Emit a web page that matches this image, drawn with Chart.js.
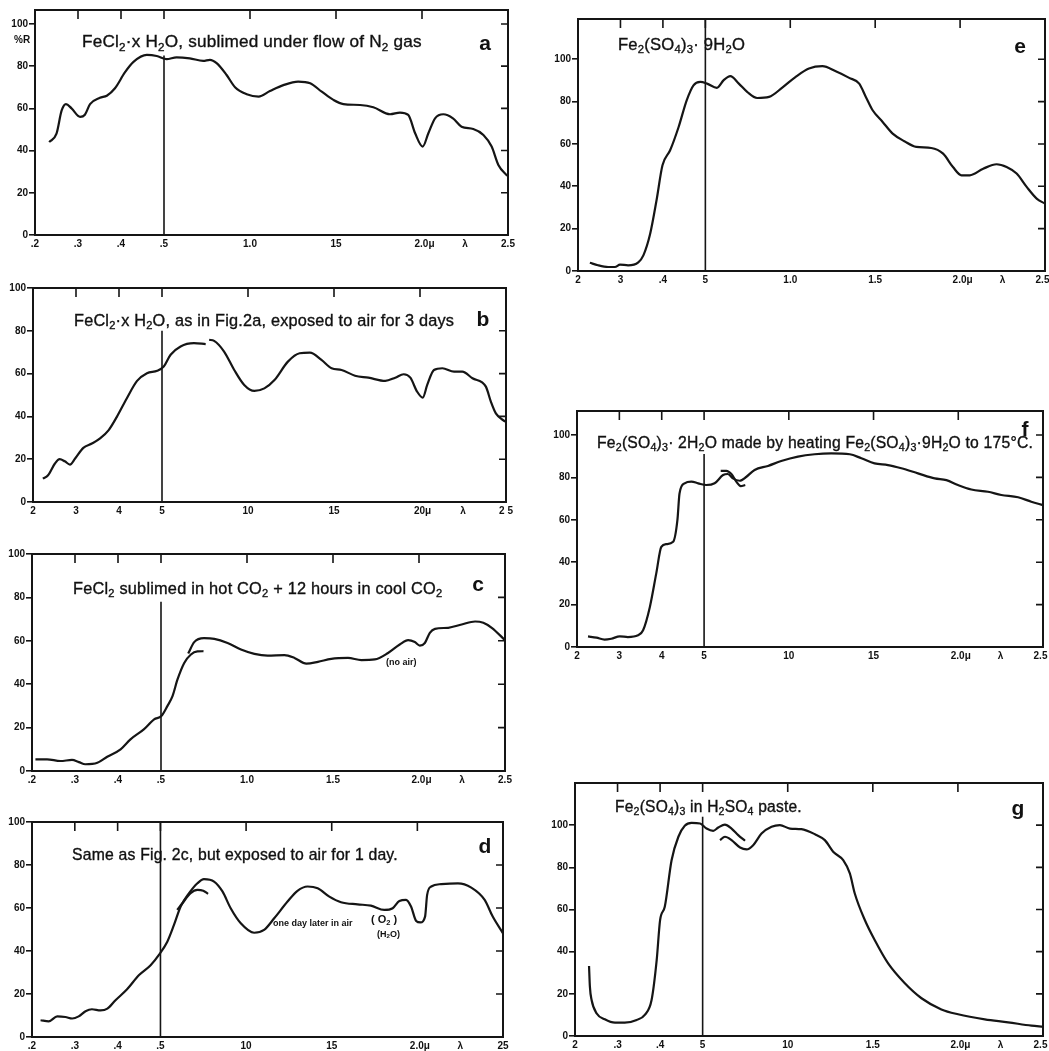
<!DOCTYPE html>
<html>
<head>
<meta charset="utf-8">
<script src="https://cdn.jsdelivr.net/npm/chart.js"></script>
<style>
  html, body { margin: 0; padding: 0; background: #fff; }
  body { width: 1049px; height: 1051px; position: relative; overflow: hidden; font-family: "Liberation Sans", Arial, sans-serif; color: #111; }
  .panel { position: absolute; }
  .note { position: absolute; white-space: nowrap; line-height: 1; transform: translateY(-50%); z-index: 2; }
  .title { font-size: 16px; -webkit-text-stroke: 0.35px #111; letter-spacing: 0.2px; }
  .tag { font-size: 21px; font-weight: bold; transform: translate(-50%, -50%); }
  .small { font-size: 9px; font-weight: bold; }
  sub { font-size: 68%; vertical-align: -0.3em; line-height: 0; }
</style>
</head>
<body>

<div class="note title" style="left:82px;top:42px" data-w="340">FeCl<sub>2</sub>·x H<sub>2</sub>O, sublimed under flow of N<sub>2</sub> gas</div>
<div class="note tag" style="left:485px;top:42px">a</div>
<div class="note small" style="left:14px;top:40px;font-size:10px">%R</div>

<div class="note title" style="left:74px;top:320px" data-w="381">FeCl<sub>2</sub>·x H<sub>2</sub>O, as in Fig.2a, exposed to air for 3 days</div>
<div class="note tag" style="left:483px;top:318px">b</div>

<div class="note title" style="left:73px;top:588px" data-w="370">FeCl<sub>2</sub> sublimed in hot CO<sub>2</sub> + 12 hours in cool CO<sub>2</sub></div>
<div class="note tag" style="left:478px;top:583px">c</div>
<div class="note small" style="left:386px;top:662px">(no air)</div>

<div class="note title" style="left:72px;top:855px" data-w="326">Same as Fig. 2c, but exposed to air for 1 day.</div>
<div class="note tag" style="left:485px;top:845px">d</div>
<div class="note small" style="left:273px;top:923px">one day later in air</div>
<div class="note small" style="left:371px;top:919px;font-size:11px">( O<sub>2</sub> )</div>
<div class="note small" style="left:377px;top:934px">(H<sub>2</sub>O)</div>

<div class="note title" style="left:618px;top:45px" data-w="127">Fe<sub>2</sub>(SO<sub>4</sub>)<sub>3</sub>· 9H<sub>2</sub>O</div>
<div class="note tag" style="left:1020px;top:45px">e</div>

<div class="note title" style="left:597px;top:443px" data-w="436">Fe<sub>2</sub>(SO<sub>4</sub>)<sub>3</sub>· 2H<sub>2</sub>O made by heating Fe<sub>2</sub>(SO<sub>4</sub>)<sub>3</sub>·9H<sub>2</sub>O to 175°C.</div>
<div class="note tag" style="left:1025px;top:428px">f</div>

<div class="note title" style="left:615px;top:807px" data-w="187">Fe<sub>2</sub>(SO<sub>4</sub>)<sub>3</sub> in H<sub>2</sub>SO<sub>4</sub> paste.</div>
<div class="note tag" style="left:1018px;top:807px">g</div>

<script>
// wavelength ticks (micron) and reflectance ticks (%)
const xTickValues = [0.2, 0.3, 0.4, 0.5, 1.0, 1.5, 2.0, 2.25, 2.5]
const yTickValues = [0, 20, 40, 60, 80, 100]

const aTickLabels = [".2", ".3", ".4", ".5", "1.0", "15", "\u20022.0μ", "λ", "2.5"]
const bTickLabels = ["2", "3", "4", "5", "10", "15", "\u200220μ", "λ", "2 5"]
const cTickLabels = [".2", ".3", ".4", ".5", "1.0", "1.5", "\u20022.0μ", "λ", "2.5"]
const dTickLabels = [".2", ".3", ".4", ".5", "10", "15", "\u20022.0μ", "λ", "25"]
const eTickLabels = ["2", "3", ".4", "5", "1.0", "1.5", "\u20022.0μ", "λ", "2.5\u2002"]
const fTickLabels = ["2", "3", "4", "5", "10", "15", "\u20022.0μ", "λ", "2.5\u2002"]
const gTickLabels = ["2", ".3", ".4", "5", "10", "1.5", "\u20022.0μ", "λ", "2.5\u2002"]

// a: FeCl2·xH2O sublimed under N2
const aWave = [0.233, 0.25, 0.262, 0.272, 0.285, 0.305, 0.316, 0.328, 0.351, 0.367, 0.386, 0.409, 0.429, 0.46, 0.483, 0.515, 0.573, 0.65, 0.728, 0.767, 0.806, 0.864, 0.913, 0.981, 1.05, 1.116, 1.194, 1.28, 1.35, 1.417, 1.485, 1.543, 1.64, 1.717, 1.814, 1.872, 1.92, 1.96, 2.004, 2.037, 2.076, 2.124, 2.18, 2.23, 2.298, 2.357, 2.405, 2.444, 2.496]
const aRefl = [44, 48, 59, 62, 60, 56, 57, 62, 65, 66, 69.5, 77, 82, 85.3, 84.8, 83.3, 84.2, 83.7, 82.5, 83, 81.4, 75.8, 70, 66.7, 65.6, 68.2, 71, 72.7, 71.9, 67.9, 64, 62, 61.6, 60.5, 57.2, 58, 56.9, 48.2, 41.9, 48.2, 55.3, 57.2, 55.3, 51.3, 50.2, 47.4, 41.9, 33.2, 28]

// b: exposed to air 3 days (pen lifted near 0.76)
const bWave1 = [0.223, 0.235, 0.251, 0.262, 0.274, 0.286, 0.298, 0.317, 0.337, 0.356, 0.376, 0.395, 0.418, 0.442, 0.465, 0.489, 0.51, 0.55, 0.608, 0.686, 0.754]
const bRefl1 = [10.9, 12.5, 18, 20, 19, 17.5, 20.3, 25.3, 27.3, 29.7, 33.6, 39.8, 48.4, 56.6, 60.2, 61.3, 63.3, 68.8, 72.7, 74.2, 73.8]
const bWave2 = [0.774, 0.803, 0.861, 0.92, 0.978, 1.037, 1.095, 1.154, 1.232, 1.3, 1.36, 1.427, 1.486, 1.544, 1.622, 1.7, 1.798, 1.856, 1.905, 1.944, 1.983, 2.016, 2.042, 2.081, 2.13, 2.198, 2.246, 2.305, 2.383, 2.412, 2.441, 2.496]
const bRefl2 = [75.8, 75.3, 70.3, 61.7, 54.7, 51.9, 53.1, 57, 65.6, 69.5, 69.8, 66.4, 62.5, 61.7, 59, 58.1, 56.6, 58.1, 59.7, 58.1, 51.6, 48.8, 54.7, 61.7, 62.5, 60.9, 60.9, 57.8, 53.9, 46.9, 41.4, 37.5]

// c: FeCl2 in CO2
const cWave1 = [0.208, 0.235, 0.266, 0.293, 0.309, 0.324, 0.352, 0.375, 0.406, 0.429, 0.46, 0.484, 0.502, 0.537, 0.567, 0.596, 0.635, 0.674, 0.712, 0.747]
const cRefl1 = [5.4, 5.4, 4.6, 5.1, 4.1, 3.1, 3.8, 6.6, 10, 14.6, 19.2, 23.8, 25.3, 29.9, 34.5, 42.2, 49.8, 53.7, 55.1, 55.2]
const cWave2 = [0.658, 0.693, 0.75, 0.81, 0.887, 0.965, 1.043, 1.12, 1.218, 1.276, 1.345, 1.412, 1.49, 1.587, 1.665, 1.743, 1.82, 1.888, 1.937, 1.976, 2.005, 2.034, 2.063, 2.093, 2.17, 2.248, 2.326, 2.374, 2.423, 2.5]
const cRefl2 = [54.1, 59.4, 61.2, 60.9, 59, 56, 54, 53.2, 53.4, 52.1, 49.5, 50.3, 51.7, 52.1, 51.1, 51.4, 54.4, 58.3, 60.3, 59.4, 57.8, 59, 63.7, 65.5, 66, 67.5, 68.9, 68.3, 66, 60.3]

// d: same, one day in air
const dWave1 = [0.22, 0.239, 0.259, 0.278, 0.294, 0.309, 0.325, 0.34, 0.36, 0.376, 0.395, 0.422, 0.45, 0.477, 0.496, 0.54, 0.579, 0.618, 0.667, 0.716, 0.754, 0.813, 0.862, 0.91, 0.969, 1.047, 1.105, 1.164, 1.242, 1.3, 1.359, 1.418, 1.486, 1.554, 1.651, 1.729, 1.807, 1.856, 1.895, 1.934, 1.963, 1.993, 2.018, 2.045, 2.057, 2.081, 2.139, 2.237, 2.315, 2.393, 2.44, 2.5]
const dRefl1 = [7.8, 7.3, 9.6, 9.3, 8.6, 9.6, 12, 12.9, 12.4, 13.2, 17.1, 22.2, 28.8, 33.4, 38.1, 44.3, 52.1, 60.7, 66.9, 71.5, 73.4, 72.3, 67.7, 59.9, 52.9, 48.5, 49.8, 55.2, 63, 68, 70, 69.2, 65.3, 62.7, 61.7, 61.1, 59.1, 59.9, 63.3, 63.8, 60.7, 54, 53.3, 56, 66.1, 70, 71.1, 71.5, 69.5, 63.8, 56, 48.2]
const dWave2 = [0.598, 0.628, 0.676, 0.716, 0.75, 0.778]
const dRefl2 = [59.1, 62.2, 66.9, 68.4, 68, 66.6]

// e: Fe2(SO4)3·9H2O
const eWave = [0.228, 0.247, 0.271, 0.287, 0.299, 0.318, 0.342, 0.354, 0.37, 0.385, 0.399, 0.417, 0.437, 0.456, 0.472, 0.488, 0.51, 0.568, 0.608, 0.647, 0.697, 0.746, 0.805, 0.875, 0.953, 1.032, 1.11, 1.189, 1.268, 1.347, 1.406, 1.445, 1.485, 1.544, 1.603, 1.672, 1.742, 1.83, 1.9, 1.958, 2.008, 2.057, 2.136, 2.215, 2.274, 2.333, 2.392, 2.451, 2.5]
const eRefl = [3.9, 2.7, 1.9, 1.9, 3, 2.7, 4.1, 7.4, 17.6, 33.4, 49.9, 57, 68, 80.6, 87.7, 89.3, 88.5, 86.5, 90.1, 92, 88.5, 84.6, 81.7, 82.2, 86.6, 91.7, 95.6, 96.7, 94.3, 91.2, 88.5, 82.2, 75.9, 70.4, 64.9, 61.3, 58.6, 58.1, 55.4, 49.1, 45.2, 45.2, 48.3, 50.4, 49.1, 46, 39.7, 34.2, 31.8]

// f: Fe2(SO4)3·2H2O
const fWave1 = [0.226, 0.246, 0.265, 0.281, 0.301, 0.32, 0.344, 0.356, 0.372, 0.387, 0.399, 0.411, 0.427, 0.437, 0.442, 0.454, 0.47, 0.486, 0.513, 0.562, 0.612, 0.64, 0.67, 0.71, 0.75, 0.798, 0.877, 0.955, 1.054, 1.152, 1.25, 1.36, 1.428, 1.506, 1.585, 1.664, 1.762, 1.861, 1.93, 1.998, 2.077, 2.175, 2.254, 2.353, 2.431, 2.5]
const fRefl1 = [5, 4.4, 3.5, 3.9, 5, 4.7, 5.5, 7.9, 18.9, 34.6, 47.2, 48.5, 49.6, 59.8, 72.4, 77.2, 78, 77.2, 76.4, 77.2, 81.1, 81.6, 79.5, 78.4, 80.3, 83.5, 85.4, 87.7, 89.8, 90.9, 91.3, 90.9, 89, 86.6, 85.8, 84.3, 81.9, 79.5, 78.7, 76.4, 74.3, 73.2, 71.7, 70.6, 68.5, 66.9]
const fWave2 = [0.598, 0.631, 0.661, 0.69, 0.716, 0.743]
const fRefl2 = [83.1, 83.1, 81.6, 78, 75.9, 76.4]

// g: Fe2(SO4)3 in H2SO4 paste
const gWave1 = [0.233, 0.235, 0.239, 0.251, 0.27, 0.294, 0.317, 0.345, 0.364, 0.38, 0.392, 0.4, 0.411, 0.427, 0.443, 0.458, 0.474, 0.494, 0.523, 0.562, 0.592, 0.631, 0.67, 0.709, 0.749]
const gRefl1 = [33.2, 23.4, 17.1, 10.7, 7.9, 6.3, 6.3, 7.6, 10, 17.1, 36, 55, 61.3, 83.4, 94.5, 99.7, 101.1, 100.8, 98.4, 97.3, 98.9, 100.3, 98.4, 95.3, 92.6]
const gWave2 = [0.602, 0.631, 0.67, 0.72, 0.758, 0.797, 0.846, 0.905, 0.954, 1.013, 1.08, 1.16, 1.218, 1.267, 1.326, 1.365, 1.394, 1.453, 1.511, 1.59, 1.688, 1.786, 1.903, 2.001, 2.158, 2.295, 2.432, 2.5]
const gRefl2 = [92.9, 94.5, 92.9, 89.4, 88.5, 90.5, 96, 99.2, 100, 98.4, 98.1, 95.7, 92.9, 87.4, 83.4, 77.1, 67.6, 55, 45.5, 34.4, 25, 17.9, 12.6, 10.3, 7.9, 6.5, 4.9, 4.4]

// height of the 0.5 micron marker line in each panel
const markerTops = { a: 85, b: 80, c: 78, d: 100, e: 119, f: 91, g: 104 }

// the spectrometer chart paper: 0.1 per division up to 0.5, then 0.5 per two divisions
const wavePos = (w) => (w <= 0.5 ? (w - 0.2) * 10 : 3 + (w - 0.5) * 4)
const posWave = (p) => (p <= 3 ? 0.2 + p / 10 : 0.5 + (p - 3) / 4)

class SpectrumScale extends Chart.LinearScale {
  buildTicks() {
    return xTickValues.map((v) => ({ value: v }))
  }
  getPixelForValue(v) {
    return this.getPixelForDecimal((wavePos(v) - wavePos(this.min)) / (wavePos(this.max) - wavePos(this.min)))
  }
  getValueForPixel(px) {
    const lo = wavePos(this.min), hi = wavePos(this.max)
    return posWave(lo + this.getDecimalForPixel(px) * (hi - lo))
  }
}
SpectrumScale.id = "spectrum"
SpectrumScale.defaults = Chart.LinearScale.defaults
Chart.register(SpectrumScale)

Chart.defaults.font.family = '"Liberation Sans", Arial, sans-serif'
Chart.defaults.color = "#111"

const ink = "#151515"

// box around the plot, with the inward ticks along top and right edges
const framePlugin = {
  id: "frame",
  afterDraw(chart) {
    const { ctx, chartArea: a } = chart
    const x = chart.scales.x
    const y = chart.scales.y
    ctx.save()
    ctx.strokeStyle = ink
    ctx.lineWidth = 2
    ctx.strokeRect(a.left, a.top, a.right - a.left, a.bottom - a.top)
    ctx.lineWidth = 1.6
    ctx.beginPath()
    x.ticks.forEach((t, i) => {
      if (i === 0 || i === x.ticks.length - 1 || t.label === "λ") return
      const px = x.getPixelForValue(t.value)
      ctx.moveTo(px, a.top)
      ctx.lineTo(px, a.top + 9)
    })
    y.ticks.forEach((t) => {
      if (t.value === 0) return
      const py = y.getPixelForValue(t.value)
      ctx.moveTo(a.right, py)
      ctx.lineTo(a.right - 7, py)
    })
    ctx.stroke()
    ctx.restore()
  },
}

const pts = (wave, refl) => wave.map((w, i) => ({ x: w, y: refl[i] }))

const curve = (data) => ({
  data,
  borderColor: ink,
  borderWidth: 2.2,
  pointRadius: 0,
  cubicInterpolationMode: "monotone",
  fill: false,
})

const marker = (top) => ({
  data: [{ x: 0.5, y: 0 }, { x: 0.5, y: top }],
  borderColor: ink,
  borderWidth: 1.6,
  pointRadius: 0,
  tension: 0,
})

const panels = [
  { key: "a", left: 35, right: 508, top: 10, bottom: 235, yMax: 106.6, labels: aTickLabels, series: [pts(aWave, aRefl)] },
  { key: "b", left: 33, right: 506, top: 288, bottom: 502, yMax: 100, labels: bTickLabels, series: [pts(bWave1, bRefl1), pts(bWave2, bRefl2)] },
  { key: "c", left: 32, right: 505, top: 554, bottom: 771, yMax: 100, labels: cTickLabels, series: [pts(cWave1, cRefl1), pts(cWave2, cRefl2)] },
  { key: "d", left: 32, right: 503, top: 822, bottom: 1037, yMax: 100, labels: dTickLabels, series: [pts(dWave1, dRefl1), pts(dWave2, dRefl2)] },
  { key: "e", left: 578, right: 1045, top: 19, bottom: 271, yMax: 119, labels: eTickLabels, series: [pts(eWave, eRefl)] },
  { key: "f", left: 577, right: 1043, top: 411, bottom: 647, yMax: 111.3, labels: fTickLabels, series: [pts(fWave1, fRefl1), pts(fWave2, fRefl2)] },
  { key: "g", left: 575, right: 1043, top: 783, bottom: 1036, yMax: 120, labels: gTickLabels, series: [pts(gWave1, gRefl1), pts(gWave2, gRefl2)] },
]

const padL = 40, padT = 6, padR = 14, padB = 22

panels.forEach((p) => {
  const wrap = document.createElement("div")
  wrap.className = "panel"
  const w = p.right - p.left + padL + padR
  const h = p.bottom - p.top + padT + padB
  wrap.style.left = p.left - padL + "px"
  wrap.style.top = p.top - padT + "px"
  const canvas = document.createElement("canvas")
  canvas.width = w
  canvas.height = h
  wrap.appendChild(canvas)
  document.body.appendChild(wrap)

  new Chart(canvas, {
    type: "line",
    data: {
      datasets: [...p.series.map(curve), marker(markerTops[p.key])],
    },
    options: {
      responsive: false,
      animation: false,
      layout: { padding: { left: 0, top: padT, right: padR, bottom: 0 } },
      plugins: { legend: { display: false }, tooltip: { enabled: false } },
      scales: {
        x: {
          type: "spectrum",
          min: 0.2,
          max: 2.5,
          border: { display: false },
          grid: { display: false, drawTicks: false },
          ticks: {
            autoSkip: false,
            maxRotation: 0,
            padding: 3,
            font: { size: 10, weight: "bold" },
            callback: (v, i) => p.labels[i],
          },
          afterFit: (s) => {
            s.height = padB
            s.paddingLeft = 0
            s.paddingRight = 0
          },
        },
        y: {
          min: 0,
          max: p.yMax,
          border: { display: false },
          grid: { drawOnChartArea: false, drawTicks: true, tickLength: 6, color: ink, lineWidth: 1.6 },
          ticks: { padding: 1, font: { size: 10, weight: "bold" } },
          afterBuildTicks: (s) => {
            s.ticks = yTickValues.map((v) => ({ value: v }))
          },
          afterFit: (s) => {
            s.width = padL
            s.paddingTop = 0
            s.paddingBottom = 0
          },
        },
      },
    },
    plugins: [framePlugin],
  })
})

// squeeze each hand-lettered caption to the width it has on the original
document.querySelectorAll(".title").forEach((el) => {
  const target = parseFloat(el.dataset.w)
  const size = parseFloat(getComputedStyle(el).fontSize)
  el.style.fontSize = (size * target) / el.offsetWidth + "px"
})
</script>
</body>
</html>
